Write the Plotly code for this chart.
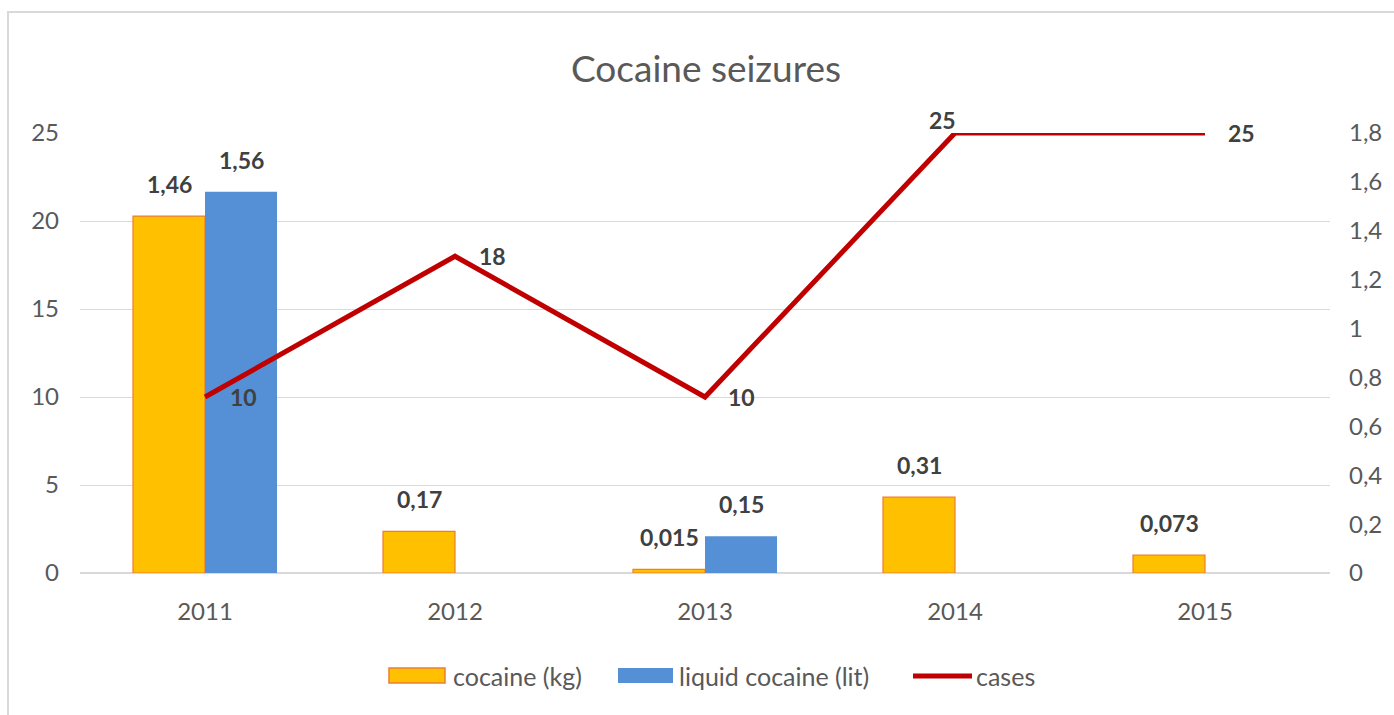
import plotly.graph_objects as go

years = ["2011", "2012", "2013", "2014", "2015"]
cocaine_kg = [1.46, 0.17, 0.015, 0.31, 0.073]
liquid_cocaine_lit = [1.56, None, 0.15, None, None]
cases = [10, 18, 10, 25, 25]

W, H = 1394, 715
L, R, T, B = 80, 64, 133, 142
PW, PH = W - L - R, H - T - B


def px2x(px):
    return (px - L) / PW


def px2y(py):
    return (H - B - py) / PH


def fmt(v):
    return ("%g" % v).replace(".", ",")


FONT = "Lato, 'Open Sans', sans-serif"
ORANGE = "#FFC000"
ORANGE_EDGE = "#ED7D31"
BLUE = "#5590D6"
RED = "#C00000"
TICK = "#595959"
LABEL = "#404040"

fig = go.Figure()
fig.add_trace(go.Bar(x=years, y=cocaine_kg, name="cocaine (kg)", yaxis="y",
                     marker=dict(color=ORANGE, line=dict(color=ORANGE_EDGE, width=1.2))))
fig.add_trace(go.Bar(x=years, y=liquid_cocaine_lit, name="liquid cocaine (lit)", yaxis="y",
                     marker=dict(color=BLUE, line=dict(width=0))))
fig.add_trace(go.Scatter(x=years, y=cases, name="cases", yaxis="y2", mode="lines",
                         line=dict(color=RED, width=5)))

annotations = []
lab_font = dict(family=FONT, size=23, color=LABEL, weight="bold")
for i, v in enumerate(cocaine_kg):
    if v is not None:
        annotations.append(dict(x=i, y=v, xref="x", yref="y", text=fmt(v), showarrow=False,
                                xshift=-36, yshift=32, font=lab_font))
for i, v in enumerate(liquid_cocaine_lit):
    if v is not None:
        annotations.append(dict(x=i, y=v, xref="x", yref="y", text=fmt(v), showarrow=False,
                                xshift=36, yshift=32, font=lab_font))
line_shifts = [(38, 0), (37, 0), (36, 0), (-13, 13), (36, 0)]
for i, (v, (dx, dy)) in enumerate(zip(cases, line_shifts)):
    annotations.append(dict(x=i, y=v, xref="x", yref="y2", text=fmt(v), showarrow=False,
                            xshift=dx, yshift=dy, font=lab_font))

# Title
annotations.append(dict(x=px2x(706), y=px2y(67), xref="paper", yref="paper", text="Cocaine seizures",
                        xanchor="center", yanchor="middle", showarrow=False,
                        font=dict(family=FONT, size=37, color=TICK)))

# Custom legend
leg_font = dict(family=FONT, size=25, color=TICK)
shapes = []
ly = 676
shapes.append(dict(type="rect", xref="paper", yref="paper", x0=px2x(389), x1=px2x(445),
                   y0=px2y(683), y1=px2y(668), fillcolor=ORANGE, line=dict(color=ORANGE_EDGE, width=1.5)))
annotations.append(dict(x=px2x(451), y=px2y(ly), xref="paper", yref="paper", text="cocaine (kg)",
                        xanchor="left", yanchor="middle", showarrow=False, font=leg_font))
shapes.append(dict(type="rect", xref="paper", yref="paper", x0=px2x(618), x1=px2x(673),
                   y0=px2y(683), y1=px2y(668), fillcolor=BLUE, line=dict(width=0)))
annotations.append(dict(x=px2x(677), y=px2y(ly), xref="paper", yref="paper", text="liquid cocaine (lit)",
                        xanchor="left", yanchor="middle", showarrow=False, font=leg_font))
shapes.append(dict(type="line", xref="paper", yref="paper", x0=px2x(913), x1=px2x(972),
                   y0=px2y(ly), y1=px2y(ly), line=dict(color=RED, width=5)))
annotations.append(dict(x=px2x(974), y=px2y(ly), xref="paper", yref="paper", text="cases",
                        xanchor="left", yanchor="middle", showarrow=False, font=leg_font))

# Frame
shapes.append(dict(type="rect", xref="paper", yref="paper", x0=px2x(8), x1=px2x(1420),
                   y0=px2y(740), y1=px2y(12), line=dict(color="#D9D9D9", width=2), layer="below"))

fig.update_layout(
    width=W, height=H,
    margin=dict(l=L, r=R, t=T, b=B),
    paper_bgcolor="white", plot_bgcolor="white",
    separators=", ",
    barmode="group", bargap=0.424, bargroupgap=0,
    showlegend=False,
    font=dict(family=FONT, size=24, color=TICK),
    xaxis=dict(type="category", range=[-0.5, len(years) - 0.5], showgrid=False, showline=False,
               ticks="", ticklabelstandoff=22, tickfont=dict(size=24, color=TICK)),
    yaxis=dict(side="right", range=[0, 1.8], dtick=0.2, showgrid=False, zeroline=False,
               showline=False, ticklabelstandoff=18, tickfont=dict(size=24, color=TICK)),
    yaxis2=dict(side="left", overlaying="y", range=[0, 25], dtick=5, showgrid=True,
                gridcolor="#D9D9D9", gridwidth=1.2, zeroline=True, zerolinecolor="#D9D9D9",
                zerolinewidth=1.5, showline=False, ticklabelstandoff=20,
                tickfont=dict(size=24, color=TICK)),
    annotations=annotations,
    shapes=shapes,
)

fig.write_html("out.html")
